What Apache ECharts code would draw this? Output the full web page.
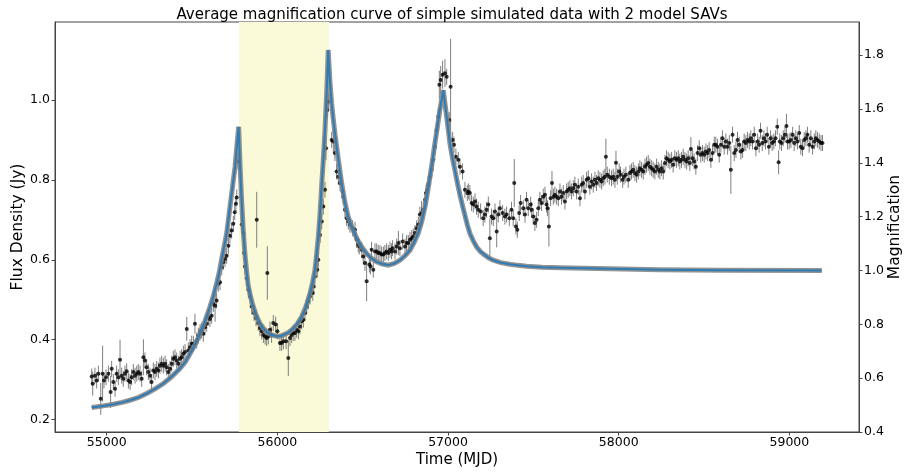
<!DOCTYPE html>
<html><head><meta charset="utf-8">
<script src="https://cdn.jsdelivr.net/npm/echarts@6/dist/echarts.min.js"></script>
<style>html,body{margin:0;padding:0;background:#fff}#c{width:904px;height:474px}</style>
</head><body><div id="c"></div>
<script>
const TITLE = 'Average magnification curve of simple simulated data with 2 model SAVs';
const X_NAME = 'Time (MJD)';
const Y_LEFT_NAME = 'Flux Density (Jy)';
const Y_RIGHT_NAME = 'Magnification';
const xTicks = [55000, 56000, 57000, 58000, 59000];
const fluxTicks = [0.2, 0.4, 0.6, 0.8, 1.0];
const magTicks = [0.4, 0.6, 0.8, 1.0, 1.2, 1.4, 1.6, 1.8];
const shadeRange = [55775, 56302];
const DEFAULT_ERR = 0.02;

// observed flux points: [MJD, flux (Jy), optional error]
const obsRise = [[54912,0.308],[54918,0.290,0.03],[54931,0.310],[54941,0.298],[54951,0.315],[54965,0.252,0.04],[54976,0.315,0.07],[54984,0.298],[54996,0.306],[55010,0.315],[55023,0.269,0.04],[55029,0.327],[55039,0.294],[55049,0.277],[55058,0.315],[55068,0.306],[55078,0.350,0.05],[55088,0.310],[55097,0.302],[55107,0.315],[55117,0.321],[55127,0.298],[55137,0.294],[55146,0.306],[55156,0.319],[55166,0.310],[55176,0.315],[55185,0.319],[55195,0.315],[55205,0.302],[55215,0.356,0.045],[55224,0.348],[55234,0.331],[55244,0.319],[55254,0.310],[55263,0.294],[55273,0.323],[55283,0.319],[55293,0.327],[55303,0.323],[55312,0.335],[55322,0.340],[55332,0.335],[55342,0.340],[55351,0.331],[55361,0.319],[55371,0.327],[55381,0.340],[55390,0.352],[55400,0.356],[55410,0.348],[55420,0.340],[55430,0.352],[55439,0.356],[55449,0.365],[55459,0.369],[55469,0.427,0.03],[55478,0.373],[55488,0.381],[55498,0.390],[55508,0.390],[55517,0.440,0.025],[55527,0.398],[55537,0.410],[55547,0.419],[55556,0.423],[55566,0.415],[55576,0.431],[55586,0.440],[55596,0.456],[55605,0.452],[55615,0.460],[55625,0.490],[55635,0.485,0.04],[55644,0.498],[55654,0.540],[55664,0.544],[55674,0.581],[55683,0.594],[55693,0.602],[55703,0.610],[55713,0.635],[55722,0.660],[55732,0.673],[55742,0.690],[55750,0.719],[55757,0.740],[55762,0.756],[55771,0.846]];
const obsDip1 = [[55791,0.688],[55801,0.667],[55805,0.617],[55810,0.583],[55820,0.554],[55830,0.525],[55840,0.508],[55849,0.483],[55863,0.467],[55875,0.454],[55879,0.700,0.07],[55888,0.442],[55898,0.429],[55908,0.421],[55918,0.412],[55928,0.408],[55937,0.404],[55941,0.567,0.067],[55947,0.408],[55957,0.425],[55966,0.412],[55976,0.442],[55990,0.438],[56000,0.421],[56015,0.392],[56025,0.392],[56035,0.396],[56051,0.396],[56064,0.354,0.045],[56074,0.404],[56084,0.412],[56093,0.417],[56103,0.417],[56113,0.425],[56123,0.421],[56132,0.433],[56142,0.446],[56152,0.450],[56162,0.467],[56172,0.483],[56181,0.496],[56191,0.508],[56207,0.517],[56213,0.533],[56220,0.558],[56234,0.575],[56240,0.600],[56250,0.662],[56260,0.696],[56269,0.733],[56279,0.775],[56285,0.879,0.03],[56293,0.975],[56299,0.996]];
const obsDip2 = [[56318,0.900],[56328,0.896,0.03],[56337,0.867],[56347,0.821],[56357,0.808],[56367,0.792],[56382,0.771],[56386,0.758],[56396,0.725],[56406,0.704],[56416,0.696],[56425,0.688],[56441,0.679],[56455,0.675],[56464,0.650],[56474,0.638],[56480,0.633],[56494,0.625],[56503,0.608],[56513,0.592],[56523,0.546,0.05],[56539,0.588],[56546,0.583],[56552,0.625],[56562,0.575],[56572,0.621],[56582,0.621],[56591,0.617],[56601,0.617],[56611,0.613],[56621,0.613],[56630,0.617],[56640,0.621],[56650,0.617],[56660,0.625],[56669,0.621],[56675,0.629],[56689,0.621],[56699,0.633],[56709,0.642,0.03],[56718,0.629],[56734,0.646],[56748,0.633],[56757,0.642],[56767,0.642],[56777,0.650],[56787,0.654],[56796,0.658],[56806,0.667],[56816,0.679],[56826,0.688],[56835,0.713],[56845,0.717,0.03],[56855,0.725],[56865,0.750],[56871,0.767],[56878,0.775],[56884,0.788],[56894,0.808],[56904,0.825],[56914,0.850],[56923,0.883],[56933,0.925],[56943,0.958],[56949,1.038,0.035],[56957,1.050,0.035],[56968,1.063,0.035],[56982,1.067,0.035],[56992,1.058],[57007,0.950],[57015,1.033,0.12],[57027,0.900],[57035,0.888],[57046,0.858],[57060,0.850],[57070,0.833],[57085,0.821],[57099,0.775],[57113,0.767]];
const obsDecline = [[57119,0.771],[57128,0.767],[57138,0.742],[57148,0.738],[57158,0.746],[57167,0.733],[57177,0.725],[57191,0.721],[57206,0.704],[57216,0.713],[57226,0.725],[57236,0.738],[57245,0.654,0.05],[57255,0.708],[57265,0.704],[57275,0.721],[57285,0.671,0.04],[57294,0.713],[57304,0.729],[57320,0.717],[57333,0.708],[57343,0.713],[57359,0.704],[57372,0.725],[57382,0.704],[57388,0.792,0.06],[57398,0.683],[57406,0.675],[57417,0.717],[57425,0.742],[57441,0.729],[57451,0.713],[57460,0.750],[57470,0.729],[57484,0.738],[57490,0.725],[57499,0.708],[57509,0.692],[57519,0.700],[57529,0.729],[57538,0.750],[57548,0.742],[57558,0.758],[57568,0.763],[57577,0.738],[57583,0.729],[57591,0.683,0.05],[57601,0.754],[57609,0.792,0.03],[57617,0.758],[57626,0.763],[57636,0.758],[57646,0.754],[57656,0.771],[57665,0.758],[57675,0.767],[57685,0.746],[57695,0.771],[57704,0.775],[57714,0.779],[57724,0.771],[57734,0.779],[57743,0.788],[57753,0.771],[57763,0.783],[57773,0.754],[57783,0.788],[57792,0.792],[57802,0.771],[57812,0.800],[57822,0.804],[57831,0.783],[57841,0.796],[57851,0.788],[57861,0.800],[57870,0.792],[57880,0.804],[57890,0.800],[57900,0.796],[57909,0.804],[57919,0.808],[57925,0.858,0.045],[57933,0.813],[57945,0.808],[57958,0.804],[57968,0.808],[57978,0.800],[57984,0.843,0.03],[57992,0.808],[58003,0.821],[58011,0.813],[58023,0.800],[58031,0.808],[58042,0.813],[58056,0.800],[58066,0.817],[58075,0.821],[58085,0.825],[58095,0.817],[58105,0.813],[58115,0.821],[58124,0.829],[58134,0.825],[58144,0.821],[58154,0.833],[58163,0.838],[58173,0.842],[58183,0.833],[58193,0.829]];
const obsLate = [[58202,0.825],[58212,0.821],[58222,0.833],[58232,0.825],[58241,0.821],[58251,0.829],[58261,0.821],[58271,0.842],[58280,0.854],[58290,0.850],[58300,0.846],[58310,0.850],[58319,0.838],[58329,0.854],[58339,0.850],[58349,0.854],[58358,0.846],[58368,0.850],[58378,0.858],[58388,0.850],[58398,0.846],[58407,0.854],[58417,0.842],[58423,0.877,0.03],[58433,0.854],[58442,0.846],[58452,0.833],[58462,0.867],[58472,0.879],[58481,0.863],[58491,0.867],[58501,0.863],[58511,0.871],[58521,0.867],[58530,0.875],[58540,0.850],[58550,0.867],[58560,0.888],[58569,0.888],[58579,0.883],[58589,0.863],[58599,0.888],[58608,0.904],[58618,0.883],[58628,0.896],[58638,0.883],[58648,0.892],[58657,0.825,0.06],[58667,0.913],[58677,0.867],[58687,0.875],[58696,0.900],[58706,0.888],[58716,0.871],[58726,0.875],[58735,0.896],[58745,0.892],[58755,0.900],[58765,0.896],[58774,0.904],[58784,0.896],[58794,0.913],[58804,0.879],[58814,0.896],[58823,0.888],[58831,0.923],[58841,0.892],[58851,0.904],[58860,0.896],[58870,0.913],[58880,0.883],[58890,0.904],[58899,0.892],[58909,0.896],[58919,0.904],[58929,0.933],[58937,0.844,0.03],[58944,0.896],[58954,0.892],[58964,0.904],[58974,0.913],[58983,0.935,0.03],[58989,0.896],[58999,0.896],[59009,0.900],[59019,0.913],[59028,0.892],[59038,0.904],[59048,0.896],[59058,0.917],[59067,0.883],[59077,0.879],[59087,0.900],[59097,0.904],[59106,0.913],[59116,0.888],[59126,0.904],[59136,0.883],[59146,0.896],[59155,0.904],[59165,0.900],[59175,0.896],[59185,0.892],[59194,0.892]];

// average model magnification: [MJD, magnification]
const modelCurve = [[54912,0.491],[54980,0.497],[55039,0.503],[55090,0.510],[55136,0.518],[55185,0.528],[55234,0.543],[55283,0.560],[55332,0.580],[55380,0.605],[55429,0.636],[55460,0.660],[55488,0.691],[55518,0.725],[55547,0.766],[55576,0.812],[55605,0.865],[55625,0.905],[55644,0.952],[55660,0.995],[55674,1.045],[55690,1.095],[55703,1.138],[55722,1.235],[55752,1.385],[55773,1.534],[55782,1.38],[55791,1.255],[55800,1.15],[55810,1.06],[55819,1.0],[55829,0.945],[55844,0.9],[55859,0.865],[55878,0.83],[55898,0.803],[55918,0.786],[55937,0.772],[55966,0.761],[55996,0.756],[56015,0.756],[56034,0.760],[56063,0.769],[56093,0.784],[56118,0.803],[56142,0.828],[56167,0.865],[56191,0.914],[56206,0.955],[56220,1.001],[56230,1.06],[56240,1.125],[56250,1.21],[56259,1.311],[56269,1.41],[56279,1.522],[56289,1.66],[56298,1.819],[56308,1.70],[56318,1.62],[56327,1.565],[56337,1.51],[56347,1.46],[56362,1.39],[56377,1.323],[56395,1.255],[56415,1.199],[56440,1.155],[56465,1.119],[56494,1.088],[56523,1.063],[56552,1.045],[56582,1.032],[56615,1.024],[56650,1.020],[56685,1.026],[56718,1.038],[56748,1.055],[56777,1.075],[56800,1.102],[56825,1.138],[56845,1.18],[56865,1.236],[56880,1.29],[56894,1.348],[56909,1.41],[56923,1.472],[56938,1.535],[56952,1.596],[56972,1.670],[56982,1.62],[56992,1.571],[57011,1.472],[57025,1.42],[57040,1.373],[57055,1.325],[57070,1.280],[57085,1.24],[57099,1.205],[57113,1.17],[57128,1.138],[57148,1.11],[57167,1.088],[57190,1.07],[57216,1.057],[57240,1.046],[57265,1.038],[57310,1.029],[57362,1.023],[57410,1.019],[57460,1.016],[57550,1.012],[57655,1.010],[57800,1.008],[57948,1.006],[58241,1.003],[58600,1.001],[59190,1.000]];

const obs = [].concat(obsRise, obsDip1, obsDip2, obsDecline, obsLate);
const points = obs.map(d => [d[0], d[1]]);
const bars = obs.map(d => [d[0], d[1], d.length > 2 ? d[2] : DEFAULT_ERR]);

const FONT = 'DejaVu Sans';
const AX = '#444';
const chart = echarts.init(document.getElementById('c'), null, {renderer: 'canvas'});
chart.setOption({
  animation: false,
  backgroundColor: '#fff',
  title: {text: TITLE, left: 'center', top: 3,
    textStyle: {fontFamily: FONT, fontSize: 15, fontWeight: 'normal', color: '#000'}},
  grid: {left: 55, right: 45, top: 22, bottom: 42, outerBoundsMode: 'none', containLabel: false,
    show: true, borderColor: AX, borderWidth: 1, backgroundColor: 'transparent'},
  xAxis: {type: 'value', min: 54697, max: 59408, name: X_NAME, nameLocation: 'middle', nameGap: 21, nameMoveOverlap: false,
    nameTextStyle: {fontFamily: FONT, fontSize: 15, color: '#000'},
    axisLine: {show: true, lineStyle: {color: AX}},
    axisTick: {show: true, customValues: xTicks, length: 3.5, lineStyle: {color: AX}},
    axisLabel: {customValues: xTicks, fontFamily: FONT, fontSize: 12.5, color: '#000', margin: 4, formatter: v => String(v)},
    splitLine: {show: false}},
  yAxis: [
    {type: 'value', min: 0.169, max: 1.195, position: 'left', name: Y_LEFT_NAME, nameLocation: 'middle', nameGap: 29, nameRotate: 90, nameMoveOverlap: false,
      nameTextStyle: {fontFamily: FONT, fontSize: 15.5, color: '#000'},
      axisLine: {show: true, lineStyle: {color: AX}},
      axisTick: {show: true, customValues: fluxTicks, length: 3.5, lineStyle: {color: AX}},
      axisLabel: {customValues: fluxTicks, fontFamily: FONT, fontSize: 12.5, color: '#000', margin: 5, formatter: v => v.toFixed(1)},
      splitLine: {show: false}},
    {type: 'value', min: 0.4, max: 1.923, position: 'right', name: Y_RIGHT_NAME, nameLocation: 'middle', nameGap: 28, nameRotate: 90, nameMoveOverlap: false,
      nameTextStyle: {fontFamily: FONT, fontSize: 15.5, color: '#000'},
      axisLine: {show: true, lineStyle: {color: AX}},
      axisTick: {show: true, customValues: magTicks, length: 3.5, lineStyle: {color: AX}},
      axisLabel: {customValues: magTicks, fontFamily: FONT, fontSize: 12.5, color: '#000', margin: 5, formatter: v => v.toFixed(1)},
      splitLine: {show: false}}
  ],
  series: [
    {type: 'line', data: [], z: 1, silent: true,
      markArea: {silent: true, itemStyle: {color: '#fafad9'}, data: [[{xAxis: shadeRange[0]}, {xAxis: shadeRange[1]}]]}},
    {type: 'custom', yAxisIndex: 0, z: 2, silent: true, clip: true,
      encode: {x: 0, y: 1}, data: bars,
      renderItem: (params, api) => {
        const x = api.value(0), y = api.value(1), e = api.value(2);
        const p1 = api.coord([x, y - e]), p2 = api.coord([x, y + e]);
        return {type: 'line', shape: {x1: p1[0], y1: p1[1], x2: p2[0], y2: p2[1]},
          style: {stroke: '#7f7f7f', lineWidth: 1}};
      }},
    {type: 'scatter', yAxisIndex: 0, z: 3, silent: true, data: points, symbol: 'circle', symbolSize: 4,
      itemStyle: {color: '#000'}},
    {type: 'line', yAxisIndex: 1, z: 4, silent: true, data: modelCurve, showSymbol: false,
      lineStyle: {color: 'rgba(128,128,128,0.85)', width: 5, join: 'miter', miterLimit: 6, cap: 'butt'}},
    {type: 'line', yAxisIndex: 1, z: 5, silent: true, data: modelCurve, showSymbol: false,
      lineStyle: {color: '#2f7bb5', width: 2, join: 'miter', miterLimit: 6}}
  ]
});
</script></body></html>
